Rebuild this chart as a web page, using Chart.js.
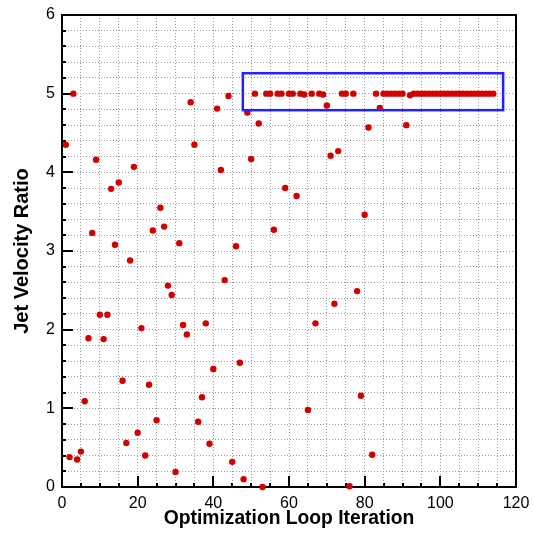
<!DOCTYPE html>
<html>
<head>
<meta charset="utf-8">
<script src="https://cdn.jsdelivr.net/npm/chart.js@4.4.1/dist/chart.umd.min.js"></script>
<style>
    body { margin: 0; background: #fff; }
    canvas { display: block; }
</style>
</head>
<body>
<canvas id="loopChart" width="533" height="534"></canvas>
<script>
// DATA
const iterations = [
    1, 2, 3, 4, 5, 6, 7, 8, 9, 10, 11, 12, 13, 14, 15, 16, 17, 18, 19, 20,
    21, 22, 23, 24, 25, 26, 27, 28, 29, 30, 31, 32, 33, 34, 35, 36, 37, 38, 39, 40,
    41, 42, 43, 44, 45, 46, 47, 48, 49, 50, 51, 52, 53, 54, 55, 56, 57, 58, 59, 60,
    61, 62, 63, 64, 65, 66, 67, 68, 69, 70, 71, 72, 73, 74, 75, 76, 77, 78, 79, 80,
    81, 82, 83, 84, 85, 86, 87, 88, 89, 90, 91, 92, 93, 94, 95, 96, 97, 98, 99, 100,
    101, 102, 103, 104, 105, 106, 107, 108, 109, 110, 111, 112, 113, 114
];
const jetRatio = [
    4.35, 0.38, 5.00, 0.35, 0.45, 1.09, 1.89, 3.23, 4.16, 2.19,
    1.88, 2.19, 3.79, 3.08, 3.87, 1.35, 0.56, 2.88, 4.07, 0.69,
    2.02, 0.40, 1.30, 3.26, 0.85, 3.55, 3.31, 2.56, 2.44, 0.19,
    3.10, 2.06, 1.94, 4.89, 4.35, 0.83, 1.14, 2.08, 0.55, 1.50,
    4.81, 4.03, 2.63, 4.97, 0.32, 3.06, 1.58, 0.10, 4.76, 4.17,
    5.00, 4.62, 0.00, 5.00, 5.00, 3.27, 5.00, 5.00, 3.80, 5.00,
    5.00, 3.70, 5.00, 4.99, 0.98, 5.00, 2.08, 5.00, 4.99, 4.85,
    4.21, 2.33, 4.27, 5.00, 5.00, 0.01, 5.00, 2.49, 1.16, 3.46,
    4.57, 0.41, 5.00, 4.82, 5.00, 5.00, 5.00, 5.00, 5.00, 5.00,
    4.60, 4.98, 5.00, 5.00, 5.00, 5.00, 5.00, 5.00, 5.00, 5.00,
    5.00, 5.00, 5.00, 5.00, 5.00, 5.00, 5.00, 5.00, 5.00, 5.00,
    5.00, 5.00, 5.00, 5.00
];
const xTickLabels = [0, 20, 40, 60, 80, 100, 120];
const yTickLabels = [0, 1, 2, 3, 4, 5, 6];
// highlighted converged region (data units)
const boxIterations = [47.8, 116.6];
const boxRatio = [4.79, 5.26];

const FONT = "'Liberation Sans', Arial, Helvetica, sans-serif";

// frame, inward ticks and the highlight box
const framePlugin = {
    id: 'frame',
    beforeDatasetsDraw(chart) {
        const { ctx, chartArea: a, scales: { x, y } } = chart;
        ctx.save();
        ctx.strokeStyle = '#000';
        ctx.lineWidth = 2;
        ctx.strokeRect(a.left, a.top, a.right - a.left, a.bottom - a.top);

        // x ticks every 5, major at labels
        for (let v = 0; v <= 120; v += 5) {
            const px = Math.round(x.getPixelForValue(v));
            const len = xTickLabels.includes(v) ? 11 : 4;
            ctx.beginPath();
            ctx.moveTo(px, a.bottom);
            ctx.lineTo(px, a.bottom - len);
            ctx.stroke();
        }
        // y ticks every 0.2, major at integers
        for (let i = 0; i <= 30; i++) {
            const v = i / 5;
            const py = Math.round(y.getPixelForValue(v));
            const len = (i % 5 === 0) ? 11 : 4;
            ctx.beginPath();
            ctx.moveTo(a.left, py);
            ctx.lineTo(a.left + len, py);
            ctx.stroke();
        }
        ctx.restore();
    },
    afterDatasetsDraw(chart) {
        const { ctx, scales: { x, y } } = chart;
        const x0 = x.getPixelForValue(boxIterations[0]);
        const x1 = x.getPixelForValue(boxIterations[1]);
        const y0 = y.getPixelForValue(boxRatio[1]);
        const y1 = y.getPixelForValue(boxRatio[0]);
        ctx.save();
        ctx.strokeStyle = '#2222ff';
        ctx.lineWidth = 2.5;
        ctx.strokeRect(x0, y0, x1 - x0, y1 - y0);
        ctx.restore();
    }
};

new Chart(document.getElementById('loopChart'), {
    type: 'scatter',
    data: {
        datasets: [{
            data: iterations.map((it, i) => ({ x: it, y: jetRatio[i] })),
            backgroundColor: '#d40000',
            borderWidth: 0,
            pointRadius: 3.2,
            pointHoverRadius: 3.2,
            clip: false
        }]
    },
    options: {
        responsive: false,
        animation: false,
        devicePixelRatio: 1,
        layout: { padding: { top: 15, right: 17, left: 0, bottom: 0 } },
        plugins: { legend: { display: false }, tooltip: { enabled: false } },
        scales: {
            x: {
                type: 'linear',
                min: 0,
                max: 120,
                afterFit: (scale) => {
                    scale.height = 47;
                    scale.paddingLeft = 0;
                    scale.paddingRight = 0;
                },
                grid: { color: '#9a9a9a', lineWidth: 1, drawTicks: false },
                border: { display: false, dash: [1, 2] },
                ticks: {
                    stepSize: 5,
                    autoSkip: false,
                    maxRotation: 0,
                    padding: 7,
                    color: '#000',
                    font: { family: FONT, size: 16 },
                    callback: (v) => xTickLabels.includes(v) ? String(v) : ''
                },
                title: {
                    display: true,
                    text: 'Optimization Loop Iteration',
                    color: '#000',
                    font: { family: FONT, size: 19.3, weight: 'bold' },
                    padding: { top: 0, bottom: 4 }
                }
            },
            y: {
                type: 'linear',
                min: 0,
                max: 6,
                afterFit: (scale) => {
                    scale.width = 62;
                    scale.paddingTop = 0;
                    scale.paddingBottom = 0;
                },
                grid: { color: '#9a9a9a', lineWidth: 1, drawTicks: false },
                border: { display: false, dash: [1, 2] },
                ticks: {
                    stepSize: 0.2,
                    autoSkip: false,
                    padding: 7,
                    color: '#000',
                    font: { family: FONT, size: 16 },
                    callback: (v) => {
                        const r = Math.round(v);
                        return (Math.abs(v - r) < 1e-6 && yTickLabels.includes(r)) ? String(r) : '';
                    }
                },
                title: {
                    display: true,
                    text: 'Jet Velocity Ratio',
                    color: '#000',
                    font: { family: FONT, size: 20, weight: 'bold' },
                    padding: { top: 10, bottom: 0 }
                }
            }
        }
    },
    plugins: [framePlugin]
});
</script>
</body>
</html>
